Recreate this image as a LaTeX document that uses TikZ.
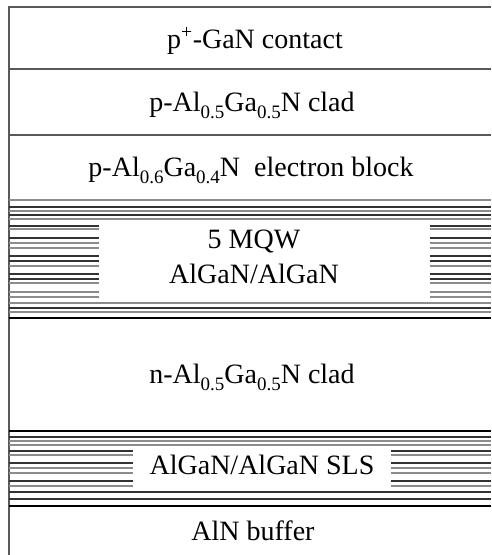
\documentclass[tikz,border=0pt]{standalone}
\usepackage{fontspec}
\setmainfont{Liberation Serif}
\newcommand{\sbs}[1]{\raisebox{-0.28em}{\fontsize{19}{20}\selectfont #1}}
\begin{document}
\begin{tikzpicture}[x=1pt,y=-1pt,
  lbl/.style={font=\fontsize{28}{32}\selectfont, anchor=base, inner sep=0pt},
  edge/.style={draw=black!65, line width=1.4pt},
  dk/.style={draw=black!80, line width=1.4pt},
  lt/.style={draw=black!45, line width=1.4pt},
  thick line/.style={draw=black, line width=2.4pt}]
\useasboundingbox (0,0) rectangle (491,555);
% outer frame
\draw[edge] (9,555) -- (9,7) -- (491,7);
\draw[edge] (9,69) -- (491,69);
\draw[edge] (9,135) -- (491,135);
% MQW full-width lines
\foreach \y/\s in {200/lt,207/dk,211/lt,215/dk,219/lt,303/lt,308/dk,312/lt}
  \draw[\s] (9,\y) -- (491,\y);
\draw[thick line] (9,318) -- (491,318);
% MQW partial lines
\foreach \y/\s in {226/dk,229/lt,238/dk,243/lt,248/lt,256/dk,261/dk,266/lt,274/dk,279/dk,283/lt,292/lt,297/lt}{
  \draw[\s] (9,\y) -- (99,\y);
  \draw[\s] (430,\y) -- (491,\y);
}
% SLS full-width lines
\draw[thick line] (9,431) -- (491,431);
\foreach \y/\s in {437/dk,441/lt,445/lt,492/dk,499/dk}
  \draw[\s] (9,\y) -- (491,\y);
\draw[thick line] (9,506) -- (491,506);
% SLS partial lines
\foreach \y/\s in {451/dk,455/lt,463/dk,468/lt,473/lt,481/dk,486/lt}{
  \draw[\s] (9,\y) -- (133,\y);
  \draw[\s] (391,\y) -- (491,\y);
}
% labels
\node[lbl] (contact) at (255,48) {p\textsuperscript{+}-GaN contact};
\node[lbl] (pclad) at (252,111) {p-Al\sbs{0.5}Ga\sbs{0.5}N clad};
\node[lbl] (eblock) at (251,176) {p-Al\sbs{0.6}Ga\sbs{0.4}N\ \ electron block};
\node[lbl] (mqw1) at (254,248) {5 MQW};
\node[lbl] (mqw2) at (254,283) {AlGaN/AlGaN};
\node[lbl] (nclad) at (252,383) {n-Al\sbs{0.5}Ga\sbs{0.5}N clad};
\node[lbl] (sls) at (262,474) {AlGaN/AlGaN SLS};
\node[lbl] (buffer) at (253,540) {AlN buffer};
\end{tikzpicture}
\end{document}
